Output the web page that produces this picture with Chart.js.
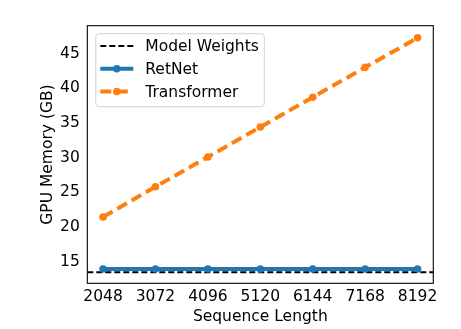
<!DOCTYPE html>
<html>
<head>
<meta charset="utf-8">
<script src="https://cdn.jsdelivr.net/npm/chart.js@4.4.1/dist/chart.umd.min.js"></script>
<style>
  html, body { margin: 0; padding: 0; background: #fff; }
  #wrap { width: 461px; height: 329px; }
</style>
</head>
<body>
<div id="wrap"><canvas id="chart" width="461" height="329"></canvas></div>
<script>
// Sequence lengths (x categories) and measured GPU memory in GB
const seqLengths = [2048, 3072, 4096, 5120, 6144, 7168, 8192];
const retnetMemory = [13.95, 13.95, 13.95, 13.95, 13.95, 13.95, 13.95];
const transformerMemory = [21.45, 25.8, 30.1, 34.4, 38.7, 43.0, 47.25];
const modelWeightsGB = 13.5;
const yTicks = [15, 20, 25, 30, 35, 40, 45];

const FONT = "'DejaVu Sans', sans-serif";
const FONT_SIZE = 15.5;
const BLUE = '#1f77b4';
const ORANGE = '#ff7f0e';

// 5% margin on the x range, as in the usual scientific plot style
const span = seqLengths[seqLengths.length - 1] - seqLengths[0];
const xMin = seqLengths[0] - span * 0.05;
const xMax = seqLengths[seqLengths.length - 1] + span * 0.05;

const toPoints = (ys) => ys.map((y, i) => ({ x: seqLengths[i], y }));

// Axes frame plus an in-plot legend box
const framePlugin = {
  id: 'frameAndLegend',
  afterDatasetsDraw(chart) {
    const { ctx, chartArea: a } = chart;
    ctx.save();
    ctx.strokeStyle = '#000';
    ctx.lineWidth = 1.1;
    ctx.strokeRect(a.left, a.top, a.right - a.left, a.bottom - a.top);

    // legend
    const bx = a.left + 8.5, by = a.top + 8, bw = 168.5, bh = 73;
    ctx.fillStyle = 'rgba(255,255,255,0.8)';
    ctx.strokeStyle = '#d0d0d0';
    ctx.lineWidth = 1;
    ctx.beginPath();
    ctx.roundRect(bx, by, bw, bh, 3);
    ctx.fill();
    ctx.stroke();

    ctx.font = FONT_SIZE + 'px ' + FONT;
    ctx.textBaseline = 'middle';
    ctx.textAlign = 'left';
    const rowGap = 22.8;
    chart.data.datasets.forEach((ds, i) => {
      const y = by + 12.3 + i * rowGap;
      const x0 = bx + 4.5, x1 = bx + 37.5;
      ctx.strokeStyle = ds.borderColor;
      ctx.lineWidth = ds.borderWidth;
      ctx.setLineDash(ds.borderDash || []);
      ctx.beginPath();
      ctx.moveTo(x0, y);
      ctx.lineTo(x1, y);
      ctx.stroke();
      ctx.setLineDash([]);
      if (ds.pointRadius > 0) {
        ctx.fillStyle = ds.borderColor;
        ctx.beginPath();
        ctx.arc((x0 + x1) / 2, y, ds.pointRadius, 0, Math.PI * 2);
        ctx.fill();
      }
      ctx.fillStyle = '#000';
      ctx.fillText(ds.label, bx + 49.5, y + 1);
    });
    ctx.restore();
  }
};

new Chart(document.getElementById('chart'), {
  type: 'line',
  data: {
    datasets: [
      {
        label: 'Model Weights',
        data: [{ x: xMin, y: modelWeightsGB }, { x: xMax, y: modelWeightsGB }],
        borderColor: '#000',
        borderWidth: 2,
        borderDash: [6, 3],
        pointRadius: 0,
        order: 3
      },
      {
        label: 'RetNet',
        data: toPoints(retnetMemory),
        borderColor: BLUE,
        backgroundColor: BLUE,
        borderWidth: 4,
        pointRadius: 3.8,
        pointBorderWidth: 0,
        pointBackgroundColor: BLUE,
        order: 2
      },
      {
        label: 'Transformer',
        data: toPoints(transformerMemory),
        borderColor: ORANGE,
        backgroundColor: ORANGE,
        borderWidth: 4,
        borderDash: [11, 5.5],
        pointRadius: 3.8,
        pointBorderWidth: 0,
        pointBackgroundColor: ORANGE,
        order: 1
      }
    ]
  },
  options: {
    responsive: false,
    animation: false,
    layout: { padding: { left: 0, right: 27.7, top: 25.7, bottom: 0 } },
    plugins: { legend: { display: false }, tooltip: { enabled: false } },
    scales: {
      x: {
        type: 'linear',
        min: xMin,
        max: xMax,
        afterBuildTicks: (s) => { s.ticks = seqLengths.map(v => ({ value: v })); },
        afterFit: (s) => { s.height = 45.7; },
        grid: { display: false, drawTicks: true, tickLength: 3.5, tickColor: '#000' },
        border: { display: false },
        ticks: {
          color: '#000',
          font: { family: FONT, size: FONT_SIZE },
          padding: 1,
          maxRotation: 0,
          autoSkip: false,
          callback: (v) => String(v)
        },
        title: {
          display: true,
          text: 'Sequence Length',
          color: '#000',
          font: { family: FONT, size: FONT_SIZE },
          padding: { top: 0, bottom: 3 }
        }
      },
      y: {
        min: 11.9,
        max: 49.0,
        afterBuildTicks: (s) => { s.ticks = yTicks.map(v => ({ value: v })); },
        afterFit: (s) => { s.width = 87.3; },
        grid: { display: false, drawTicks: true, tickLength: 3.5, tickColor: '#000' },
        border: { display: false },
        ticks: {
          color: '#000',
          font: { family: FONT, size: FONT_SIZE },
          padding: 4,
          autoSkip: false
        },
        title: {
          display: true,
          text: 'GPU Memory (GB)',
          color: '#000',
          font: { family: FONT, size: FONT_SIZE },
          padding: { top: 39, bottom: 0 }
        }
      }
    }
  },
  plugins: [framePlugin]
});
</script>
</body>
</html>
